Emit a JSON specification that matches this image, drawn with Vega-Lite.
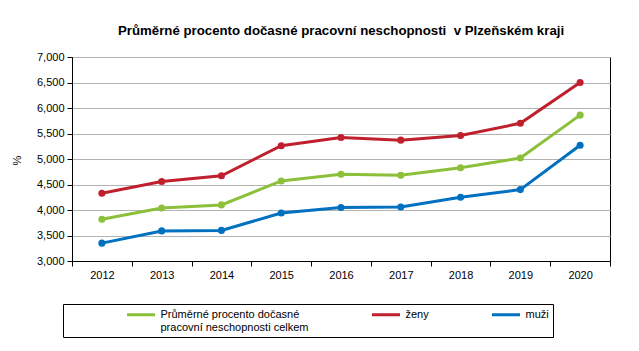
{
  "$schema": "https://vega.github.io/schema/vega-lite/v6.json",
  "width": 538,
  "height": 204,
  "autosize": {"type": "none"},
  "padding": {"left": 72, "top": 57, "right": 29, "bottom": 90},
  "background": "white",
  "config": {
    "font": "Liberation Sans",
    "view": {"stroke": "black", "strokeWidth": 1}
  },
  "title": {
    "text": "Průměrné procento dočasné pracovní neschopnosti\u00a0 v Plzeňském kraji",
    "fontSize": 13.25,
    "fontWeight": "bold",
    "color": "black",
    "anchor": "middle",
    "offset": 13,
    "font": "Liberation Sans"
  },
  "data": {
    "values": [
      {"year": "2012", "series": "Průměrné procento dočasné pracovní neschopnosti celkem", "value": 3.82},
      {"year": "2013", "series": "Průměrné procento dočasné pracovní neschopnosti celkem", "value": 4.04},
      {"year": "2014", "series": "Průměrné procento dočasné pracovní neschopnosti celkem", "value": 4.10},
      {"year": "2015", "series": "Průměrné procento dočasné pracovní neschopnosti celkem", "value": 4.57},
      {"year": "2016", "series": "Průměrné procento dočasné pracovní neschopnosti celkem", "value": 4.70},
      {"year": "2017", "series": "Průměrné procento dočasné pracovní neschopnosti celkem", "value": 4.68},
      {"year": "2018", "series": "Průměrné procento dočasné pracovní neschopnosti celkem", "value": 4.83},
      {"year": "2019", "series": "Průměrné procento dočasné pracovní neschopnosti celkem", "value": 5.02},
      {"year": "2020", "series": "Průměrné procento dočasné pracovní neschopnosti celkem", "value": 5.86},
      {"year": "2012", "series": "ženy", "value": 4.33},
      {"year": "2013", "series": "ženy", "value": 4.56},
      {"year": "2014", "series": "ženy", "value": 4.67},
      {"year": "2015", "series": "ženy", "value": 5.26},
      {"year": "2016", "series": "ženy", "value": 5.42},
      {"year": "2017", "series": "ženy", "value": 5.37},
      {"year": "2018", "series": "ženy", "value": 5.46},
      {"year": "2019", "series": "ženy", "value": 5.70},
      {"year": "2020", "series": "ženy", "value": 6.50},
      {"year": "2012", "series": "muži", "value": 3.35},
      {"year": "2013", "series": "muži", "value": 3.59},
      {"year": "2014", "series": "muži", "value": 3.60},
      {"year": "2015", "series": "muži", "value": 3.94},
      {"year": "2016", "series": "muži", "value": 4.05},
      {"year": "2017", "series": "muži", "value": 4.06},
      {"year": "2018", "series": "muži", "value": 4.25},
      {"year": "2019", "series": "muži", "value": 4.40},
      {"year": "2020", "series": "muži", "value": 5.27}
    ]
  },
  "encoding": {
    "x": {
      "field": "year",
      "type": "ordinal",
      "scale": {"type": "band", "paddingInner": 0, "paddingOuter": 0},
      "axis": {
        "title": null,
        "tickBand": "extent",
        "labelAngle": 0,
        "domainColor": "black",
        "tickColor": "black",
        "tickSize": 5,
        "labelFontSize": 11,
        "labelColor": "black",
        "labelPadding": 3,
        "grid": false
      }
    },
    "y": {
      "field": "value",
      "type": "quantitative",
      "scale": {"domain": [3, 7], "nice": false, "zero": false},
      "axis": {
        "title": "%",
        "values": [3, 3.5, 4, 4.5, 5, 5.5, 6, 6.5, 7],
        "labelExpr": "replace(format(datum.value, '.3f'), '.', ',')",
        "labelFontSize": 11,
        "labelColor": "black",
        "labelPadding": 3,
        "gridColor": "#b3b3b3",
        "domainColor": "black",
        "tickColor": "black",
        "tickSize": 5,
        "titleX": -55,
        "titleY": 103,
        "titleAngle": -90,
        "titleBaseline": "middle",
        "titleAlign": "center",
        "titleFontWeight": "normal",
        "titleFontSize": 11,
        "titleColor": "black"
      }
    },
    "color": {
      "field": "series",
      "type": "nominal",
      "scale": {
        "domain": ["Průměrné procento dočasné pracovní neschopnosti celkem", "ženy", "muži"],
        "range": ["#8cc03a", "#c0202e", "#0070c0"]
      },
      "legend": {
        "orient": "none",
        "legendX": -9,
        "legendY": 247,
        "direction": "horizontal",
        "columns": 3,
        "title": " ",
        "titleOrient": "left",
        "titlePadding": 57,
        "strokeColor": "black",
        "padding": 4,
        "symbolType": "M-0.7,0H4.9",
        "symbolSize": 100,
        "symbolStrokeWidth": 3,
        "labelFontSize": 11,
        "labelColor": "black",
        "labelLimit": 400,
        "labelOffset": 23.5,
        "labelBaseline": "middle",
        "columnPadding": 57,
        "labelExpr": "datum.label == 'muži' ? ['muži\u00a0\u00a0', ''] : (datum.label == 'ženy' ? ['ženy', ''] : ['Průměrné procento dočasné', ' pracovní neschopnosti celkem'])"
      }
    }
  },
  "layer": [
    {"mark": {"type": "line", "strokeWidth": 3}},
    {"mark": {"type": "point", "filled": true, "size": 50, "opacity": 1}}
  ]
}
